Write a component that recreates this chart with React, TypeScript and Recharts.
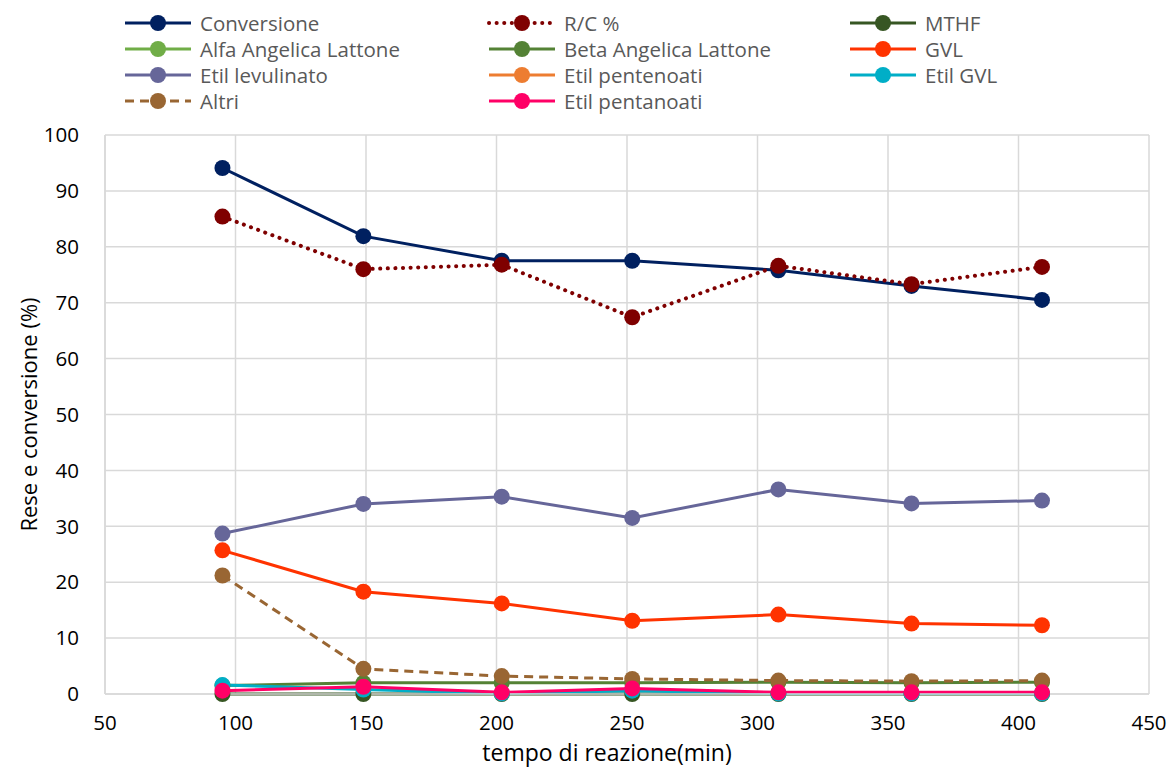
import React from "react";
import { LineChart, Line, XAxis, YAxis, CartesianGrid } from "recharts";

const tempi = [95, 149, 202, 252, 308, 359, 409];
const conversione = [94.1, 81.9, 77.5, 77.5, 75.8, 73.0, 70.5];
const rc = [85.4, 76.0, 76.8, 67.4, 76.6, 73.3, 76.4];
const mthf = [0, 0, 0, 0, 0, 0, 0];
const alfa: (number | null)[] = [null, null, null, null, null, null, null];
const beta = [1.5, 2.0, 2.0, 2.0, 2.1, 2.0, 2.1];
const gvl = [25.7, 18.3, 16.2, 13.1, 14.2, 12.6, 12.3];
const etilLev = [28.7, 34.0, 35.3, 31.5, 36.6, 34.1, 34.6];
const etilPenten: (number | null)[] = [null, null, null, null, null, null, null];
const etilGvl = [1.6, 0.8, 0.1, 0.6, 0.1, 0.1, 0.1];
const altri = [21.2, 4.5, 3.2, 2.7, 2.4, 2.3, 2.4];
const etilPentan = [0.6, 1.3, 0.3, 1.0, 0.3, 0.3, 0.3];

const xTicks = [50, 100, 150, 200, 250, 300, 350, 400, 450];
const yTicks = [0, 10, 20, 30, 40, 50, 60, 70, 80, 90, 100];

type Serie = {
  key: string;
  name: string;
  values: (number | null)[];
  color: string;
  dash?: string;
  cap?: "round" | "butt";
  width: number;
};

const series: Serie[] = [
  { key: "conv", name: "Conversione", values: conversione, color: "#002060", width: 3 },
  { key: "rc", name: "R/C %", values: rc, color: "#7F0000", dash: "0.1 7.5", cap: "round", width: 4 },
  { key: "mthf", name: "MTHF", values: mthf, color: "#375623", width: 3 },
  { key: "alfa", name: "Alfa Angelica Lattone", values: alfa, color: "#70AD47", width: 3 },
  { key: "beta", name: "Beta Angelica Lattone", values: beta, color: "#548235", width: 3 },
  { key: "gvl", name: "GVL", values: gvl, color: "#FF3300", width: 3 },
  { key: "lev", name: "Etil levulinato", values: etilLev, color: "#666699", width: 3 },
  { key: "penten", name: "Etil pentenoati", values: etilPenten, color: "#ED7D31", width: 3 },
  { key: "egvl", name: "Etil GVL", values: etilGvl, color: "#00AEC7", width: 3 },
  { key: "altri", name: "Altri", values: altri, color: "#996633", dash: "9 6", width: 3 },
  { key: "pentan", name: "Etil pentanoati", values: etilPentan, color: "#FF0066", width: 3 },
];

const data = tempi.map((t, i) => {
  const row: Record<string, number | null> = { t };
  series.forEach((s) => {
    row[s.key] = s.values[i];
  });
  return row;
});

const FONT = "'Open Sans', sans-serif";
const colLeft = [123, 487, 848];
const rowTop = [23, 49, 75, 101];

function LegendBlock() {
  return (
    <div style={{ position: "absolute", left: 0, top: 0, width: 1169, height: 120 }}>
      {series.map((s, i) => {
        const col = i % 3;
        const row = Math.floor(i / 3);
        return (
          <div
            key={s.key}
            style={{
              position: "absolute",
              left: colLeft[col],
              top: rowTop[row] - 13,
              height: 26,
              display: "flex",
              alignItems: "center",
              whiteSpace: "nowrap",
            }}
          >
            <svg width={70} height={20} style={{ display: "block" }}>
              <line
                x1={2}
                y1={10}
                x2={68}
                y2={10}
                stroke={s.color}
                strokeWidth={s.width}
                strokeDasharray={s.dash}
                strokeLinecap={s.cap || "butt"}
              />
              <circle cx={35} cy={10} r={8} fill={s.color} />
            </svg>
            <span
              style={{
                marginLeft: 7,
                fontFamily: FONT,
                fontSize: 20.5,
                color: "#595959",
                lineHeight: "26px",
              }}
            >
              {s.name}
            </span>
          </div>
        );
      })}
    </div>
  );
}

export default function App() {
  return (
    <div style={{ position: "absolute", left: 0, top: 0, width: 1169, height: 769, background: "#fff" }}>
      <LegendBlock />
      <LineChart
        width={1169}
        height={769}
        data={data}
        margin={{ top: 135, right: 20, bottom: 0, left: 0 }}
        style={{ position: "absolute", left: 0, top: 0 }}
      >
        <CartesianGrid stroke="#d9d9d9" strokeWidth={1.5} />
        <XAxis
          dataKey="t"
          type="number"
          domain={[50, 450]}
          ticks={xTicks}
          interval={0}
          height={75}
          axisLine={{ stroke: "#d9d9d9", strokeWidth: 1.5 }}
          tickLine={false}
          tick={{ fill: "#000", fontSize: 20.5, fontFamily: FONT }}
          tickMargin={15}
          label={(props: any) => {
            const vb = props.viewBox;
            return (
              <text
                x={vb.x + vb.width / 2 - 20}
                y={vb.y + 67}
                textAnchor="middle"
                fontFamily={FONT}
                fontSize={23}
                fill="#000"
              >
                tempo di reazione(min)
              </text>
            );
          }}
        />
        <YAxis
          type="number"
          domain={[0, 100]}
          ticks={yTicks}
          interval={0}
          width={105}
          axisLine={{ stroke: "#d9d9d9", strokeWidth: 1.5 }}
          tickLine={false}
          tick={{ fill: "#000", fontSize: 20.5, fontFamily: FONT }}
          tickMargin={20}
          label={(props: any) => {
            const vb = props.viewBox;
            const cx = vb.x + 28;
            const cy = vb.y + vb.height / 2;
            return (
              <text
                x={cx}
                y={cy}
                transform={`rotate(-90 ${cx} ${cy})`}
                textAnchor="middle"
                dominantBaseline="central"
                fontFamily={FONT}
                fontSize={22}
                fill="#000"
              >
                Rese e conversione (%)
              </text>
            );
          }}
        />
        {series.map((s) => (
          <Line
            key={s.key}
            dataKey={s.key}
            name={s.name}
            type="linear"
            stroke={s.color}
            strokeWidth={s.width}
            strokeDasharray={s.dash}
            strokeLinecap={s.cap || "butt"}
            dot={{ r: 8, fill: s.color, stroke: "none", strokeWidth: 0 }}
            activeDot={false}
            isAnimationActive={false}
            connectNulls={false}
          />
        ))}
      </LineChart>
    </div>
  );
}
